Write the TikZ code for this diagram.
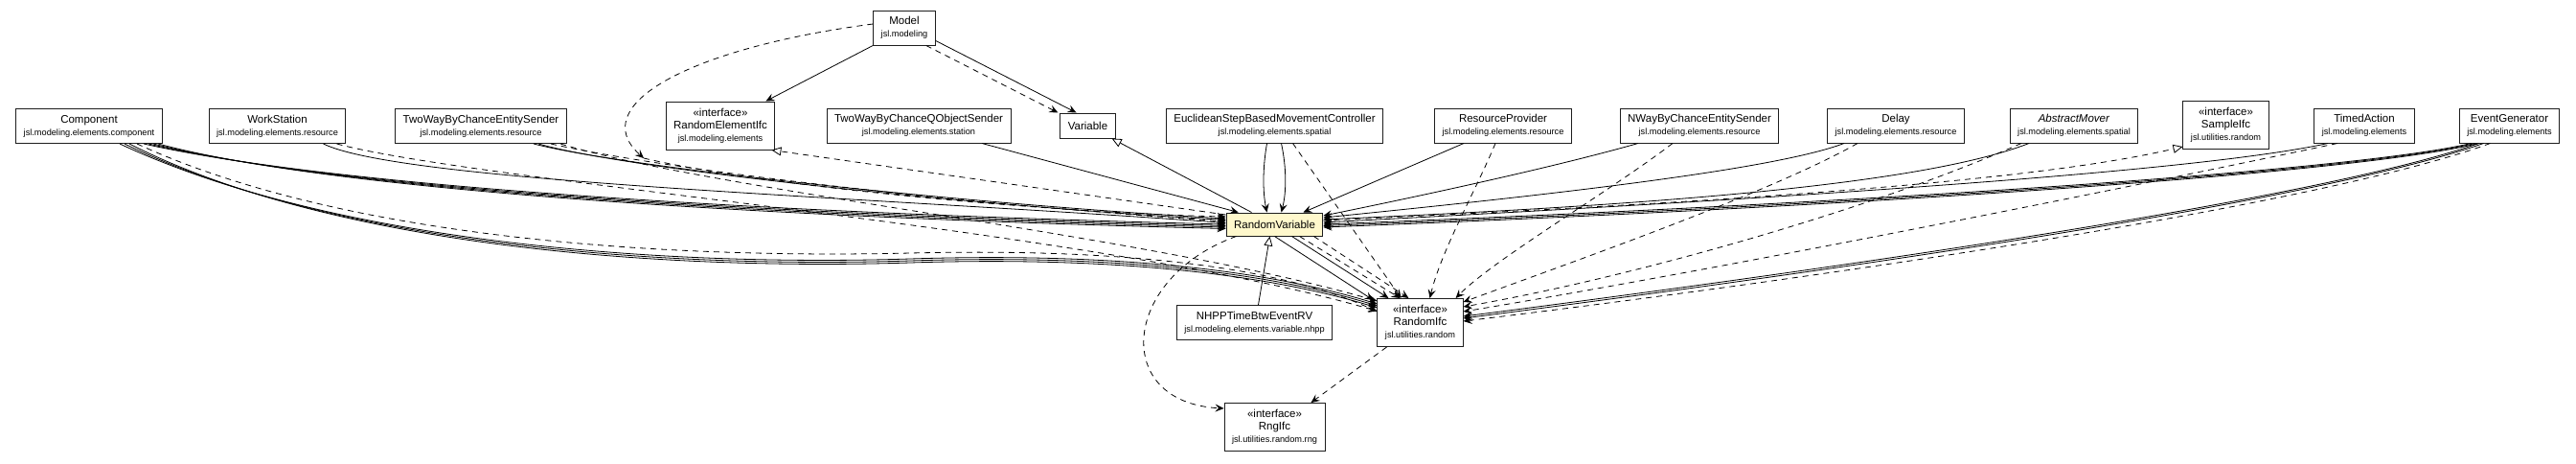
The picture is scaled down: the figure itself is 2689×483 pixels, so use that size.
\documentclass[tikz,border=0pt]{standalone}
\usepackage{fontspec}
\setmainfont{Liberation Sans}
\usepackage{tikz}
\usetikzlibrary{arrows.meta,calc}
\definecolor{rvyellow}{HTML}{FFF8CC}
\definecolor{umlline}{HTML}{1E1E1E}
\newcommand{\pkgname}[1]{{\fontsize{9.2}{11}\selectfont #1}}
\newcommand{\ifcmark}{«interface»}

\begin{document}
\begin{tikzpicture}[x=1pt, y=-1pt, >={Stealth[length=9pt,width=8pt,inset=3.5pt]},
  font=\fontsize{11.5}{13}\selectfont,
  umlclass/.style={draw=umlline, line width=1pt, fill=white, align=center,
    inner xsep=8pt, inner ysep=2pt, minimum height=36pt},
  umlifc/.style={umlclass, minimum height=50pt},
  assoc/.style={->, line width=0.8pt},
  dep/.style={->, line width=0.8pt, dash pattern=on 6pt off 5pt},
  gen/.style={-{Triangle[open,length=10pt,width=9pt]}, line width=0.8pt},
  realize/.style={gen, dash pattern=on 6pt off 5pt}]

  \useasboundingbox (0,0) rectangle (2689,483);

  % ================= CLASSES =================
  \node[umlclass] (Model) at (944,29) {Model\\\pkgname{jsl.modeling}};

  \node[umlclass] (Component) at (93,131.5) {Component\\\pkgname{jsl.modeling.elements.component}};
  \node[umlclass] (WorkStation) at (289.5,131.5) {WorkStation\\\pkgname{jsl.modeling.elements.resource}};
  \node[umlclass] (TwoWayEntity) at (502,131.5) {TwoWayByChanceEntitySender\\\pkgname{jsl.modeling.elements.resource}};
  \node[umlifc] (RandomElementIfc) at (752,131) {\ifcmark\\RandomElementIfc\\\pkgname{jsl.modeling.elements}};
  \node[umlclass] (TwoWayQObject) at (959,131) {TwoWayByChanceQObjectSender\\\pkgname{jsl.modeling.elements.station}};
  \node[umlclass, minimum height=26pt] (Variable) at (1135.5,131) {Variable};
  \node[umlclass] (Euclidean) at (1330.5,131) {EuclideanStepBasedMovementController\\\pkgname{jsl.modeling.elements.spatial}};
  \node[umlclass] (ResourceProvider) at (1569,131) {ResourceProvider\\\pkgname{jsl.modeling.elements.resource}};
  \node[umlclass] (NWay) at (1774,131) {NWayByChanceEntitySender\\\pkgname{jsl.modeling.elements.resource}};
  \node[umlclass] (Delay) at (1979,131) {Delay\\\pkgname{jsl.modeling.elements.resource}};
  \node[umlclass] (AbstractMover) at (2165,131) {\textit{AbstractMover}\\\pkgname{jsl.modeling.elements.spatial}};
  \node[umlifc] (SampleIfc) at (2323.5,130.5) {\ifcmark\\SampleIfc\\\pkgname{jsl.utilities.random}};
  \node[umlclass] (TimedAction) at (2468,131) {TimedAction\\\pkgname{jsl.modeling.elements}};
  \node[umlclass] (EventGenerator) at (2619.5,131) {EventGenerator\\\pkgname{jsl.modeling.elements}};

  \node[umlclass, fill=rvyellow, minimum height=24pt] (RandomVariable) at (1330.5,234) {RandomVariable};
  \node[umlclass] (NHPP) at (1309.5,336.5) {NHPPTimeBtwEventRV\\\pkgname{jsl.modeling.elements.variable.nhpp}};
  \node[umlifc] (RandomIfc) at (1482.5,336.5) {\ifcmark\\RandomIfc\\\pkgname{jsl.utilities.random}};
  \node[umlifc] (RngIfc) at (1330.5,445.5) {\ifcmark\\RngIfc\\\pkgname{jsl.utilities.random.rng}};

  % ================= MODEL =================
  \draw[assoc] (Model.south west) -- ($(RandomElementIfc.north east)+(-10,0)$);
  \draw[assoc] ($(Model.south east)+(0,-5)$) -- ($(Variable.north)+(-12,0)$);
  \draw[dep] ($(Model.south east)+(-10,0)$) -- ($(Variable.north west)+(-2,0)$);
  \coordinate (wrapEnd) at (672,165);
  \draw[dep] ($(Model.west)+(0,-4)$) .. controls (720,50) and (610,110) .. (wrapEnd);
  \draw[dep] (wrapEnd) .. controls (800,195) and (1100,222) .. ($(RandomVariable.west)+(0,-8)$);

  % ================= LEFT SIDE =================
  % realization of RandomElementIfc
  \draw[realize] ($(RandomVariable.west)+(0,-10)$) -- ($(RandomElementIfc.south east)+(-4,0)$);

  % TwoWayByChanceEntitySender
  \foreach \dx/\dy in {0/-6, 5/-4.5}
    \draw[assoc] ($(TwoWayEntity.south)+({55+\dx},0)$) .. controls (650,{180+\dy}) and (1000,{218+\dy}) .. ($(RandomVariable.west)+(0,\dy)$);
  \draw[dep] ($(TwoWayEntity.south)+(73,0)$) .. controls (700,178) and (1000,212) .. ($(RandomVariable.west)+(0,-3)$);
  \draw[dep] ($(TwoWayEntity.south)+(83,0)$) .. controls (750,200) and (1200,245) .. ($(RandomIfc.north west)+(0,3)$);

  % WorkStation
  \draw[assoc] ($(WorkStation.south)+(48,0)$) .. controls (420,190) and (900,205) .. ($(RandomVariable.west)+(0,-1.5)$);
  \draw[dep] ($(WorkStation.south)+(62,0)$) .. controls (500,190) and (1150,240) .. ($(RandomIfc.west)+(0,-12)$);

  % Component
  \foreach \dx/\dy in {0/0, 5/1.5, 10/3, 15/4.5}
    \draw[assoc] ($(Component.south)+({57+\dx},0)$) .. controls (350,{195+\dy}) and (800,{222+\dy}) .. ($(RandomVariable.west)+(0,\dy)$);
  \foreach \dx/\dy in {0/0, 5/2, 10/4}
    \draw[assoc] ($(Component.south)+({32+\dx},0)$) .. controls (350,{255+\dy}) and (700,{278+\dy}) .. (950,{270+\dy})
      .. controls (1200,{262+\dy}) and (1350,{290+\dy}) .. ($(RandomIfc.north west)+(0,{6+\dy})$);
  \draw[dep] ($(Component.south)+(50,0)$) .. controls (360,250) and (700,270) .. (950,264)
      .. controls (1200,258) and (1350,284) .. ($(RandomIfc.north west)+(0,14)$);

  % ================= TOP MIDDLE =================
  \draw[assoc] ($(TwoWayQObject.south)+(66,0)$) -- ($(RandomVariable.north west)+(13,0)$);
  \draw[gen] ($(RandomVariable.north)+(-24,0)$) -- ($(Variable.south east)+(-4,0)$);
  \draw[assoc] ($(Euclidean.south)+(-8,0)$) .. controls (1318,175) and (1318,200) .. ($(RandomVariable.north)+(-8,0)$);
  \draw[assoc] ($(Euclidean.south)+(7,0)$) .. controls (1343,175) and (1343,200) .. ($(RandomVariable.north)+(7,0)$);
  \draw[dep] ($(Euclidean.south)+(19,0)$) -- ($(RandomIfc.north)+(-20,0)$);

  % ResourceProvider
  \draw[assoc] ($(ResourceProvider.south)+(-41,0)$) -- ($(RandomVariable.north)+(30,0)$);
  \draw[dep] ($(ResourceProvider.south)+(-8,0)$) .. controls (1540,200) and (1505,260) .. ($(RandomIfc.north)+(10,0)$);

  % NWayByChanceEntitySender
  \draw[assoc] ($(NWay.south)+(-64,0)$) .. controls (1620,175) and (1480,205) .. ($(RandomVariable.east)+(0,-9)$);
  \draw[dep] ($(NWay.south)+(-28,0)$) .. controls (1680,200) and (1560,270) .. ($(RandomIfc.north east)+(-8,0)$);

  % ================= RIGHT SIDE =================
  % Delay
  \draw[assoc] ($(Delay.south)+(-54,0)$) .. controls (1850,178) and (1600,205) .. ($(RandomVariable.east)+(0,-7)$);
  \draw[dep] ($(Delay.south)+(-40,0)$) .. controls (1850,200) and (1650,270) .. ($(RandomIfc.north east)+(0,4)$);

  % AbstractMover
  \draw[assoc] ($(AbstractMover.south)+(-47,0)$) .. controls (2000,195) and (1700,215) .. ($(RandomVariable.east)+(0,-5)$);
  \draw[dep] ($(AbstractMover.south)+(-55,0)$) .. controls (1950,220) and (1700,290) .. ($(RandomIfc.north east)+(0,9)$);

  % realization of SampleIfc
  \draw[realize] ($(RandomVariable.east)+(0,-4)$) .. controls (1700,215) and (2100,195) .. ($(SampleIfc.south west)+(0,-3)$);

  % TimedAction
  \draw[assoc] ($(TimedAction.south)+(-38,0)$) .. controls (2300,178) and (1900,205) .. ($(RandomVariable.east)+(0,-2)$);
  \draw[dep] ($(TimedAction.south)+(-28,0)$) .. controls (2200,200) and (1800,280) .. ($(RandomIfc.north east)+(0,14)$);

  % EventGenerator
  \foreach \dx/\dy in {0/0, 4/1.5, 8/3}
    \draw[assoc] ($(EventGenerator.south)+({-40+\dx},0)$) .. controls (2450,{180+\dy}) and (1900,{214+\dy}) .. ($(RandomVariable.east)+(0,\dy)$);
  \foreach \dx/\dy in {0/0, 5/2}
    \draw[assoc] ($(EventGenerator.south)+({-32+\dx},0)$) .. controls (2400,{215+\dy}) and (1800,{295+\dy}) .. ($(RandomIfc.north east)+(0,{19+\dy})$);
  \draw[dep] ($(EventGenerator.south)+(-20,0)$) .. controls (2400,222) and (1800,302) .. ($(RandomIfc.north east)+(0,24)$);

  % ================= BELOW RANDOMVARIABLE =================
  \draw[gen] ($(NHPP.north)+(4,0)$) -- ($(RandomVariable.south)+(-5,0)$);
  \draw[assoc] (RandomVariable.south) -- ($(RandomIfc.north west)+(-4,2)$);
  \draw[assoc] ($(RandomVariable.south)+(18,0)$) -- ($(RandomIfc.north west)+(12,0)$);
  \draw[dep] ($(RandomVariable.south)+(26,0)$) -- ($(RandomIfc.north west)+(24,0)$);
  \draw[dep] ($(RandomVariable.south east)+(-10,0)$) -- ($(RandomIfc.north west)+(33,0)$);
  \draw[dep] ($(RandomVariable.south)+(-40,0)$) .. controls (1170,290) and (1160,420) .. ($(RngIfc.north west)+(0,6)$);
  \draw[dep] ($(RandomIfc.south)+(-35,0)$) -- ($(RngIfc.north east)+(-15,0)$);

\end{tikzpicture}
\end{document}
